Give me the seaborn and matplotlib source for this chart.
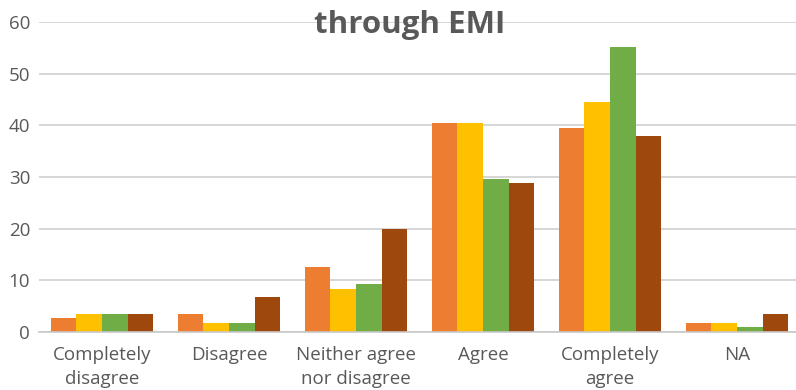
import matplotlib.pyplot as plt
import pandas as pd
import seaborn as sns

categories = [
    "Completely\ndisagree",
    "Disagree",
    "Neither agree\nnor disagree",
    "Agree",
    "Completely\nagree",
    "NA",
]
series_names = ["Series 1", "Series 2", "Series 3", "Series 4"]
series_1 = [2.6, 3.4, 12.5, 40.4, 39.5, 1.7]
series_2 = [3.4, 1.6, 8.3, 40.4, 44.6, 1.7]
series_3 = [3.4, 1.6, 9.2, 29.7, 55.2, 0.9]
series_4 = [3.4, 6.7, 20.0, 28.9, 37.9, 3.4]
colors = ["#ED7D31", "#FFC000", "#70AD47", "#9E480E"]

rows = []
for name, values in zip(series_names, [series_1, series_2, series_3, series_4]):
    for cat, v in zip(categories, values):
        rows.append([cat, name, v])
df = pd.DataFrame(rows, columns=["Category", "Series", "Value"])

sns.set_theme(style="white")
plt.rcParams["font.family"] = ["Open Sans", "DejaVu Sans"]

fig = plt.figure(figsize=(7.96, 3.9), dpi=100)
ax = fig.add_axes([38.5 / 796, 58.3 / 390, 762 / 796, 309.4 / 390])

sns.barplot(
    data=df,
    x="Category",
    y="Value",
    hue="Series",
    palette=colors,
    width=0.81,
    saturation=1,
    linewidth=0,
    legend=False,
    ax=ax,
)

ax.set_ylim(0, 60)
ax.set_yticks(range(0, 61, 10))
ax.yaxis.grid(True, color="#d0d0d0", linewidth=1.2)
ax.set_axisbelow(True)
for side in ["left", "right", "top"]:
    ax.spines[side].set_visible(False)
ax.spines["bottom"].set_color("#c8c8c8")
ax.spines["bottom"].set_linewidth(1.2)
ax.set_xlabel("")
ax.set_ylabel("")
ax.tick_params(axis="both", length=0, labelsize=13.5, labelcolor="#595959")
ax.tick_params(axis="y", pad=6)
ax.tick_params(axis="x", pad=10)
for lbl in ax.get_xticklabels():
    lbl.set_linespacing(1.45)

# title is the cut-off second line, drawn over the top gridline
fig.text(
    0.515,
    1 - 33 / 390,
    "through EMI",
    ha="center",
    va="baseline",
    fontsize=22.5,
    fontweight="bold",
    color="#595959",
)

fig.savefig("out.png", dpi=100)
